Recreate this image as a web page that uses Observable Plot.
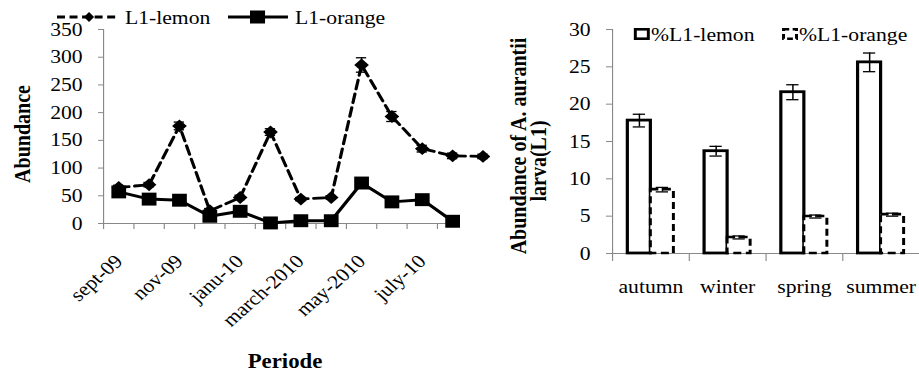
<!DOCTYPE html>
<html><head><meta charset="utf-8">
<script src="https://cdn.jsdelivr.net/npm/d3@7"></script>
<script src="https://cdn.jsdelivr.net/npm/@observablehq/plot@0.6"></script>
<style>
html,body{margin:0;padding:0;background:#fff;}
#page{position:absolute;left:0;top:0;width:806.14px;height:375px;transform:scaleX(1.14);transform-origin:0 0;font-family:"Liberation Serif","Times New Roman",serif;color:#000;}
#page svg{position:absolute;left:0;top:0;}
.lab{position:absolute;white-space:nowrap;line-height:19px;font-size:19px;}
.tick45{position:absolute;white-space:nowrap;line-height:19px;font-size:19px;transform-origin:0 0;transform:rotate(-45deg) translate(-100%,-50%);}
.ttl{position:absolute;white-space:nowrap;line-height:20px;font-size:20px;font-weight:bold;transform:translate(-50%,-50%);}
.rot{transform:translate(-50%,-50%) rotate(-90deg);}
.sw{position:absolute;overflow:visible;}
</style></head><body><div id="page"></div>
<script>
// ---------- data ----------
const periods = ["sept-09","oct-09","nov-09","dec-09","janu-10","feb-10","march-2010","april-2010","may-2010","june-10","july-10","aug-10","sept-10"];
const periodTicks = ["sept-09","nov-09","janu-10","march-2010","may-2010","july-10"];
const lemon    = [65, 70, 176, 23, 47, 165, 44, 47, 286, 193, 135, 122, 121];
const lemonErr = [4, 4, 7, 4, 4, 6, 3, 3, 13, 9, 6, 5, 4];
const orange    = [57, 44, 42, 13, 22, 1, 5, 5, 73, 39, 43, 4];
const orangeErr = [3, 3, 3, 3, 3, 1, 2, 2, 4, 3, 3, 2];
const seriesNames = ["L1-lemon", "L1-orange"];
const yTicksLeft = [0, 50, 100, 150, 200, 250, 300, 350];

const seasons = ["autumn", "winter", "spring", "summer"];
const pctLemon    = [17.8, 13.7, 21.6, 25.6];
const pctLemonErr = [0.85, 0.65, 1.0, 1.25];
const pctOrange    = [8.55, 2.15, 4.95, 5.2];
const pctOrangeErr = [0.3, 0.2, 0.2, 0.2];
const pctNames = ["%L1-lemon", "%L1-orange"];
const yTicksRight = [0, 5, 10, 15, 20, 25, 30];

const leftTitle = "Abundance";
const leftXTitle = "Periode";
const rightTitle = ["Abundance of A. aurantii", "larva(L1)"];

// ---------- layout ----------
const S = 1.14;            // horizontal stretch of the original figure
const W = 919 / S;
const page = document.getElementById("page");
const font = {background: "transparent", fontFamily: "Liberation Serif, Times New Roman, serif", fontSize: "19px", overflow: "visible"};

const lemonRows = lemon.map((v, i) => ({i, v, e: lemonErr[i]}));
const orangeRows = orange.map((v, i) => ({i, v, e: orangeErr[i]}));
const diamond = {draw(ctx, size) { const r = Math.sqrt(size) * 0.62625; ctx.moveTo(0, -r); ctx.lineTo(r, 0); ctx.lineTo(0, r); ctx.lineTo(-r, 0); ctx.closePath(); }};

const left = Plot.plot({
  width: W, height: 375,
  marginLeft: 103 / S, marginRight: W - 497.6 / S, marginTop: 29, marginBottom: 152,
  x: {type: "linear", domain: [0, periods.length], axis: null, label: null},
  y: {domain: [0, 350], axis: null, label: null},
  style: font,
  marks: [
    Plot.ruleX([0], {y1: 0, y2: 350, stroke: "#888"}),
    Plot.ruleY([0], {x1: 0, x2: 11.75, stroke: "#888"}),
    Plot.axisY(yTicksLeft, {tickSize: 5 / S, tickFormat: () => "", stroke: "#888", label: null}),
    Plot.axisY(yTicksLeft, {tickSize: 0, tickPadding: 5 / S + 14, fontSize: 19, label: null}),
    Plot.axisX(d3.range(12), {tickSize: 6, tickFormat: () => "", stroke: "#888", label: null}),
    Plot.line(lemonRows, {x: d => d.i + 0.5, y: "v", stroke: "black", strokeWidth: 2.8, strokeDasharray: "9,5"}),
    Plot.line(orangeRows, {x: d => d.i + 0.5, y: "v", stroke: "black", strokeWidth: 3}),
    Plot.ruleX(lemonRows, {x: d => d.i + 0.5, y1: d => d.v - d.e, y2: d => d.v + d.e, stroke: "black", strokeWidth: 1.3}),
    Plot.ruleY(lemonRows, {y: d => d.v + d.e, x1: d => d.i + 0.33, x2: d => d.i + 0.67, stroke: "black", strokeWidth: 1.3}),
    Plot.ruleY(lemonRows, {y: d => d.v - d.e, x1: d => d.i + 0.33, x2: d => d.i + 0.67, stroke: "black", strokeWidth: 1.3}),
    Plot.dot(lemonRows, {x: d => d.i + 0.5, y: "v", symbol: diamond, r: 5.8, fill: "black", stroke: "none"}),
    Plot.dot(orangeRows, {x: d => d.i + 0.5, y: "v", symbol: "square", r: 7.3, fill: "black", stroke: "none"})
  ]
});
page.appendChild(left);

const lemonPct = pctLemon.map((v, i) => ({i, v, e: pctLemonErr[i]}));
const orangePct = pctOrange.map((v, i) => ({i, v, e: pctOrangeErr[i]}));

const right = Plot.plot({
  width: W, height: 375,
  marginLeft: 612 / S, marginRight: 0, marginTop: 29, marginBottom: 122,
  x: {type: "linear", domain: [0, seasons.length], axis: null, label: null},
  y: {domain: [0, 30], axis: null, label: null},
  style: font,
  marks: [
    Plot.ruleX([0], {y1: 0, y2: 30, stroke: "#888"}),
    Plot.ruleY([0], {x1: 0, x2: 4, stroke: "#888"}),
    Plot.axisY(yTicksRight, {tickSize: 6 / S, tickFormat: () => "", stroke: "#888", label: null}),
    Plot.axisY(yTicksRight, {tickSize: 0, tickPadding: 6 / S + 14, fontSize: 19, label: null}),
    Plot.axisX(d3.range(4), {tickSize: 8, tickFormat: () => "", stroke: "#888", label: null}),
    Plot.text(seasons, {x: (d, i) => i + 0.5, y: () => 0, text: d => d, dy: 33, fontSize: 19}),
    Plot.rectY(lemonPct, {x1: d => d.i + 0.2, x2: d => d.i + 0.5, y1: 0, y2: "v", fill: "white", stroke: "black", strokeWidth: 2.8}),
    Plot.rectY(orangePct, {x1: d => d.i + 0.5, x2: d => d.i + 0.8, y1: 0, y2: "v", fill: "white", stroke: "black", strokeWidth: 2.6, strokeDasharray: "7,4"}),
    Plot.ruleX(lemonPct, {x: d => d.i + 0.35, y1: d => d.v - d.e, y2: d => d.v + d.e, stroke: "black", strokeWidth: 1.3}),
    Plot.ruleY(lemonPct, {y: d => d.v + d.e, x1: d => d.i + 0.27, x2: d => d.i + 0.43, stroke: "black", strokeWidth: 1.3}),
    Plot.ruleY(lemonPct, {y: d => d.v - d.e, x1: d => d.i + 0.27, x2: d => d.i + 0.43, stroke: "black", strokeWidth: 1.3}),
    Plot.ruleX(orangePct, {x: d => d.i + 0.65, y1: d => d.v - d.e, y2: d => d.v + d.e, stroke: "black", strokeWidth: 1.3}),
    Plot.ruleY(orangePct, {y: d => d.v + d.e, x1: d => d.i + 0.57, x2: d => d.i + 0.73, stroke: "black", strokeWidth: 1.3}),
    Plot.ruleY(orangePct, {y: d => d.v - d.e, x1: d => d.i + 0.57, x2: d => d.i + 0.73, stroke: "black", strokeWidth: 1.3})
  ]
});
page.appendChild(right);

// ---------- rotated period tick labels, placed through Plot's own scales ----------
function add(html) { page.insertAdjacentHTML("beforeend", html); }
const xs = left.scale("x"), ys = left.scale("y");
for (const p of periodTicks) {
  const ax = xs.apply(periods.indexOf(p) + 0.5);
  const ay = ys.apply(0) + 35;
  add(`<div class="tick45" style="left:${ax.toFixed(1)}px;top:${ay.toFixed(1)}px">${p}</div>`);
}

// ---------- legends & titles (HTML) ----------
const L = v => (v / S).toFixed(1);
add(`<svg class="sw" style="left:${L(57)}px;top:8px" width="${L(60)}" height="18"><line x1="0" y1="9" x2="${L(60)}" y2="9" stroke="black" stroke-width="2.8" stroke-dasharray="7,4"/><polygon points="${L(32)},4 ${L(37)},9 ${L(32)},14 ${L(27)},9" fill="black"/></svg>`);
add(`<div class="lab" style="left:${L(125)}px;top:7.5px">${seriesNames[0]}</div>`);
add(`<svg class="sw" style="left:${L(228)}px;top:8px" width="${L(60)}" height="18"><line x1="0" y1="9" x2="${L(60)}" y2="9" stroke="black" stroke-width="3"/><rect x="${L(22)}" y="2.5" width="${L(15)}" height="13" fill="black"/></svg>`);
add(`<div class="lab" style="left:${L(295)}px;top:7.5px">${seriesNames[1]}</div>`);
add(`<svg class="sw" style="left:${L(634)}px;top:28px" width="${L(16)}" height="12"><rect x="1.3" y="1.3" width="${(L(16) - 2.6).toFixed(1)}" height="9.4" fill="white" stroke="black" stroke-width="2.6"/></svg>`);
add(`<div class="lab" style="left:${L(651)}px;top:25px">${pctNames[0]}</div>`);
add(`<svg class="sw" style="left:${L(782)}px;top:28px" width="${L(16)}" height="12"><rect x="1.3" y="1.3" width="${(L(16) - 2.6).toFixed(1)}" height="9.4" fill="white" stroke="black" stroke-width="2.6" stroke-dasharray="5,3"/></svg>`);
add(`<div class="lab" style="left:${L(799)}px;top:25px">${pctNames[1]}</div>`);
add(`<div class="ttl rot" style="left:${L(22)}px;top:134px">${leftTitle}</div>`);
add(`<div class="ttl" style="left:${L(285)}px;top:361px">${leftXTitle}</div>`);
add(`<div class="ttl rot" style="left:${L(517.5)}px;top:146px">${rightTitle[0]}</div>`);
add(`<div class="ttl rot" style="left:${L(538.5)}px;top:161px">${rightTitle[1]}</div>`);
</script></body></html>
